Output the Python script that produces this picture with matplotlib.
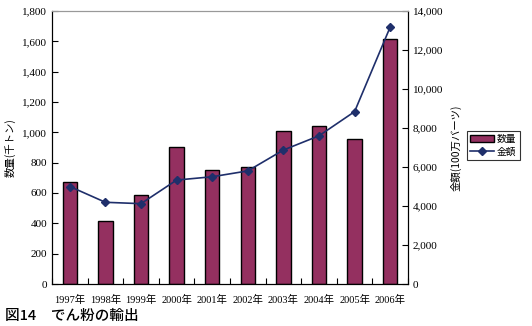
import matplotlib
matplotlib.use("Agg")
import matplotlib.pyplot as plt
import numpy as np

plt.rcParams['font.family'] = ['Liberation Serif', 'Noto Sans CJK JP']

years = ['1997年', '1998年', '1999年', '2000年', '2001年',
         '2002年', '2003年', '2004年', '2005年', '2006年']
quantity = [675, 415, 590, 905, 750, 770, 1008, 1040, 958, 1615]
value = [5000, 4190, 4120, 5330, 5500, 5800, 6870, 7600, 8840, 13180]

bar_color = '#943060'
line_color = '#1F2F6B'
jp = ['Noto Sans CJK JP']

fig = plt.figure(figsize=(5.32, 3.26), dpi=100)
ax = fig.add_axes([52 / 532, 1 - 284 / 326, (408 - 52) / 532, (284 - 11) / 326])
ax2 = ax.twinx()

x = np.arange(len(years))
bars = ax.bar(x, quantity, width=0.4, color=bar_color, edgecolor='black',
              linewidth=1.0, label='数量')
line, = ax2.plot(x, value, color=line_color, marker='D', markersize=4,
                 linewidth=1.2, label='金額')

ax.set_xlim(-0.5, len(years) - 0.5)
ax.set_ylim(0, 1800)
ax.set_yticks(range(0, 1801, 200))
ax.set_yticklabels([f'{v:,}' for v in range(0, 1801, 200)])
ax2.set_ylim(0, 14000)
ax2.set_yticks(range(0, 14001, 2000))
ax2.set_yticklabels([f'{v:,}' for v in range(0, 14001, 2000)])

ax.set_xticks(np.arange(len(years) + 1) - 0.5, minor=False)
ax.set_xticklabels([])
ax.set_xticks(x, minor=True)
ax.set_xticklabels(years, minor=True)
ax.tick_params(axis='x', which='minor', length=0, pad=8, labelsize=7.5)
ax.tick_params(axis='x', which='major', length=4, direction='in')
ax.tick_params(axis='y', labelsize=8, direction='in', length=4)
ax2.tick_params(axis='y', labelsize=8, direction='in', length=4)

for a in (ax, ax2):
    for s in a.spines.values():
        s.set_linewidth(0.8)
ax.spines['top'].set_color('#999999')
ax2.spines['top'].set_color('#999999')

ax.set_ylabel('数量(千トン)', family=jp, fontsize=7.5, labelpad=5)
ax2.set_ylabel('金額(100万バーツ)', family=jp, fontsize=7.5, labelpad=5)

leg = fig.legend(handles=[bars, line], labels=['数量', '金額'],
                 loc='upper left', bbox_to_anchor=(467 / 532, 1 - 131 / 326),
                 prop={'family': jp, 'size': 7}, frameon=True, fancybox=False,
                 edgecolor='black', handlelength=2.5, borderpad=0.3,
                 labelspacing=0.3, handletextpad=0.3, borderaxespad=0)
leg.get_frame().set_linewidth(0.8)

fig.text(5 / 532, 1 - 316 / 326, '図14　でん粉の輸出', family=jp,
         fontsize=10.5, fontweight='medium', va='center', ha='left')

fig.savefig('out.png', dpi=100)
